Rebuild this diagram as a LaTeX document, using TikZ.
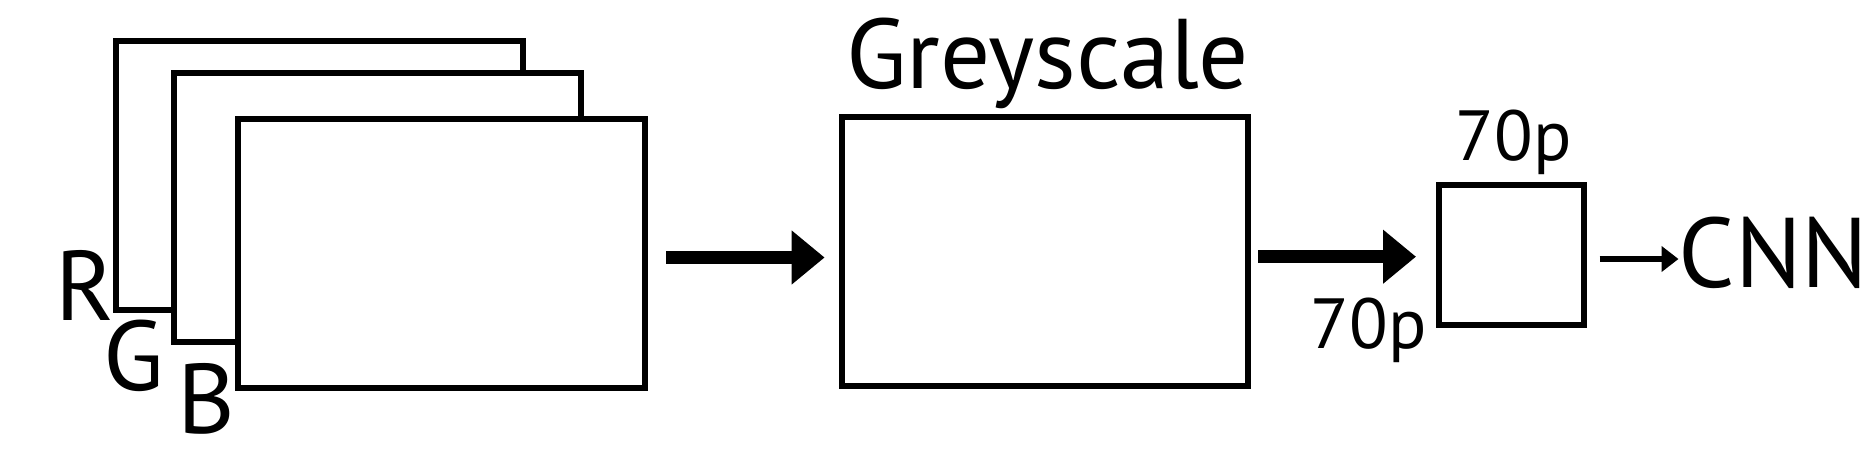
\documentclass[tikz,border=0pt]{standalone}
\usepackage{fontspec}
\setmainfont{PT Sans}
\usetikzlibrary{arrows.meta}
\begin{document}
\begin{tikzpicture}[x=1pt,y=-1pt,
  frame/.style={draw=black, fill=white, line width=6pt, inner sep=0pt, outer sep=0pt},
  biglabel/.style={inner sep=0pt, anchor=base, font=\fontsize{99}{102}\selectfont},
  sizelabel/.style={inner sep=0pt, anchor=base, font=\fontsize{71}{73}\selectfont},
  bigarrow/.style={line width=13.3pt, -{Triangle[length=33pt,width=52pt]}},
  thinarrow/.style={line width=6pt, -{Triangle[length=17pt,width=25pt]}}]
\useasboundingbox (0,0) rectangle (1875,471);
% stacked channel frames
\node[frame, minimum width=406.8pt, minimum height=269pt] (R) at (319.4,175.5) {};
\node[frame, minimum width=406.8pt, minimum height=268.5pt] (G) at (377.4,207.25) {};
\node[frame, minimum width=406.2pt, minimum height=268.7pt] (B) at (441.5,253.35) {};
\node[biglabel] (Rl) at (84.75,320) {R};
\node[biglabel] (Gl) at (134,390) {G};
\node[biglabel] (Bl) at (206.5,433) {B};
% greyscale frame
\node[frame, minimum width=406pt, minimum height=268.5pt] (grey) at (1045,251.25) {};
\node[biglabel] (greyl) at (1047.6,88.3) {Greyscale};
% small frame
\node[frame, minimum width=145pt, minimum height=139.8pt] (small) at (1511.5,254.9) {};
\node[sizelabel] (wl) at (1513.5,160) {70p};
\node[sizelabel] (hl) at (1368.8,348) {70p};
\node[biglabel, anchor=base west] (cnn) at (1678.5,287) {CNN};
% connectors
\draw[bigarrow, shorten <=21.4pt, shorten >=17.4pt] ([yshift=-4.15pt]B.east) -- ([yshift=-4.15pt]B.east -| grey.west);
\draw[bigarrow, shorten <=10pt, shorten >=23pt] ([yshift=-5.45pt]grey.east) -- ([yshift=-5.45pt]grey.east -| small.west);
\draw[thinarrow, shorten <=15.5pt] ([yshift=-4.1pt]small.east) -- ([yshift=-4.1pt]small.east -| cnn.west);
\end{tikzpicture}
\end{document}
